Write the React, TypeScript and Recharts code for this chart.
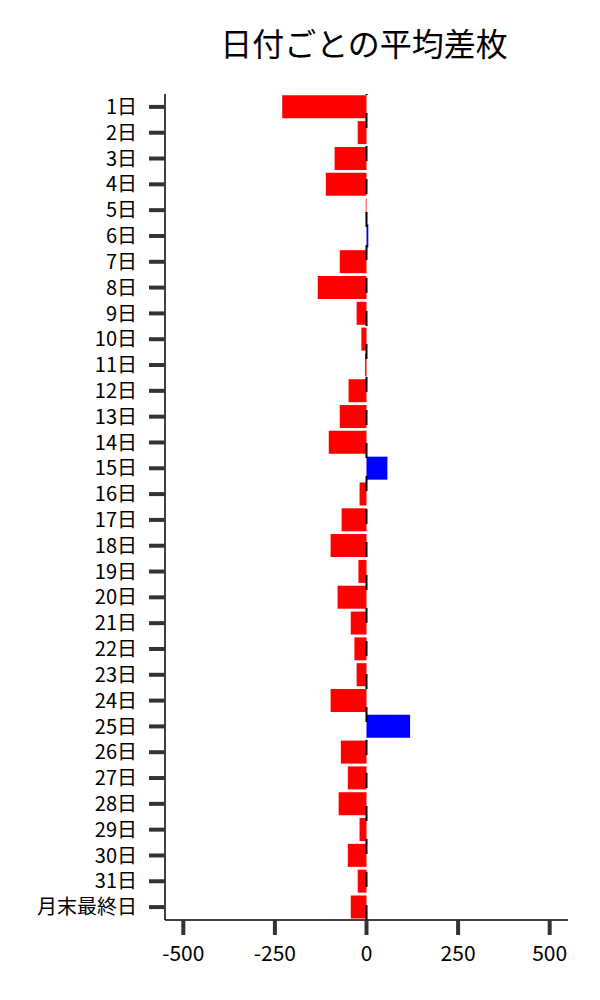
import React from 'react';
import { BarChart, Bar, XAxis, YAxis, Cell, ReferenceLine } from 'recharts';

const days = [
  '1日', '2日', '3日', '4日', '5日', '6日', '7日', '8日', '9日', '10日',
  '11日', '12日', '13日', '14日', '15日', '16日', '17日', '18日', '19日', '20日',
  '21日', '22日', '23日', '24日', '25日', '26日', '27日', '28日', '29日', '30日',
  '31日', '月末最終日',
];
const avgDiff = [
  -230, -24, -87, -111, -2, 5, -73, -133, -27, -14,
  -4, -49, -73, -103, 57, -19, -68, -98, -22, -79,
  -43, -33, -27, -98, 119, -70, -51, -76, -19, -51,
  -24, -43,
];
const xTicks = [-500, -250, 0, 250, 500];

const data = days.map((day, i) => ({ day, value: avgDiff[i] }));

const font = '"Noto Sans CJK JP", "Noto Sans", sans-serif';

const App: React.FC = () => {
  return (
    <div style={{ position: 'absolute', left: 0, top: 0, width: 600, height: 1000, background: '#fff' }}>
      <div
        style={{
          position: 'absolute',
          left: 0,
          width: 728,
          top: 19,
          textAlign: 'center',
          fontFamily: font,
          fontSize: 32,
          lineHeight: '46px',
          color: '#000',
        }}
      >
        日付ごとの平均差枚
      </div>
      <BarChart
        width={600}
        height={1000}
        data={data}
        layout="vertical"
        margin={{ top: 94, right: 32, bottom: 0, left: 0 }}
        barCategoryGap="5%"
      >
        <XAxis
          type="number"
          domain={[-550, 550]}
          ticks={xTicks}
          height={80}
          axisLine={{ stroke: '#000', strokeWidth: 1.5 }}
          tickLine={{ stroke: '#333', strokeWidth: 4 }}
          tickSize={15}
          tickMargin={11}
          tick={{ fill: '#000', fontSize: 21, fontFamily: font }}
        />
        <YAxis
          type="category"
          dataKey="day"
          width={165}
          interval={0}
          axisLine={{ stroke: '#000', strokeWidth: 1.5 }}
          tickLine={{ stroke: '#333', strokeWidth: 4 }}
          tickSize={16}
          tickMargin={12}
          tick={{ fill: '#000', fontSize: 20, fontFamily: font }}
        />
        <Bar dataKey="value" isAnimationActive={false}>
          {data.map((d) => (
            <Cell key={d.day} fill={d.value < 0 ? '#ff0000' : '#0000ff'} />
          ))}
        </Bar>
        <ReferenceLine x={0} stroke="#000" strokeWidth={2} strokeDasharray="15 18" />
      </BarChart>
    </div>
  );
};

export default App;
